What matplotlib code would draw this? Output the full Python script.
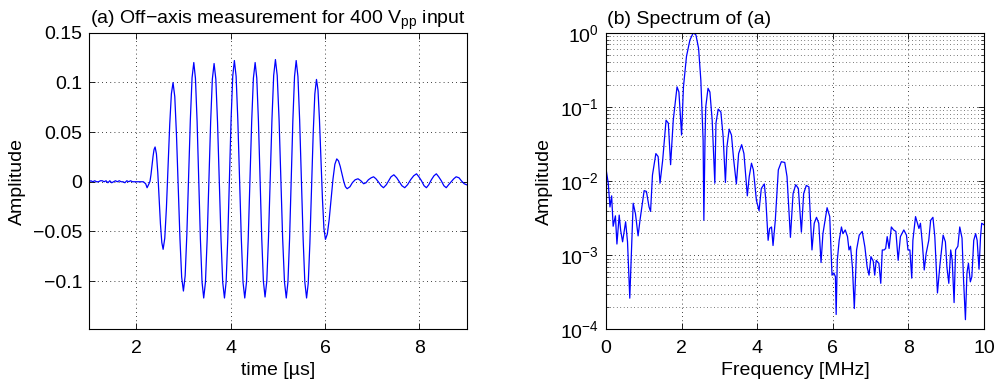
import numpy as np
import matplotlib
matplotlib.use("Agg")
import matplotlib.pyplot as plt
from matplotlib.ticker import LogLocator, NullFormatter

plt.rcParams["font.family"] = ["Liberation Sans", "DejaVu Sans"]
plt.rcParams["mathtext.fontset"] = "custom"
plt.rcParams["mathtext.rm"] = "Liberation Sans"
plt.rcParams["mathtext.it"] = "Liberation Sans"

# (a) time signal: time [us], amplitude
t_us = [
    1.00, 1.04, 1.08, 1.12, 1.16, 1.20, 1.24, 1.28, 1.32, 1.36, 1.40, 1.44,
    1.48, 1.52, 1.56, 1.60, 1.64, 1.68, 1.72, 1.76, 1.80, 1.84, 1.88, 1.92,
    1.96, 2.00, 2.05, 2.10, 2.15, 2.20, 2.23, 2.27,
    2.292, 2.313, 2.335, 2.357, 2.378, 2.40,
    2.428, 2.457, 2.485, 2.513, 2.542, 2.57,
    2.605, 2.64, 2.675, 2.71, 2.745, 2.78,
    2.817, 2.853, 2.89, 2.927, 2.963, 3.00,
    3.037, 3.073, 3.11, 3.147, 3.183, 3.22,
    3.255, 3.29, 3.325, 3.36, 3.395, 3.43,
    3.467, 3.503, 3.54, 3.577, 3.613, 3.65,
    3.687, 3.723, 3.76, 3.797, 3.833, 3.87,
    3.905, 3.94, 3.975, 4.01, 4.045, 4.08,
    4.117, 4.153, 4.19, 4.227, 4.263, 4.30,
    4.337, 4.373, 4.41, 4.447, 4.483, 4.52,
    4.555, 4.59, 4.625, 4.66, 4.695, 4.73,
    4.767, 4.803, 4.84, 4.877, 4.913, 4.95,
    4.988, 5.027, 5.065, 5.103, 5.142, 5.18,
    5.215, 5.25, 5.285, 5.32, 5.355, 5.39,
    5.427, 5.463, 5.50, 5.537, 5.573, 5.61,
    5.645, 5.68, 5.715, 5.75, 5.785, 5.82,
    5.852, 5.883, 5.915, 5.947, 5.978, 6.01,
    6.05, 6.09, 6.13, 6.17, 6.21, 6.25,
    6.287, 6.323, 6.36, 6.397, 6.433, 6.47,
    6.53, 6.58, 6.64, 6.70, 6.76, 6.82, 6.87, 6.92, 6.98, 7.03,
    7.08, 7.13, 7.19, 7.24, 7.30, 7.35, 7.40, 7.46, 7.52, 7.575,
    7.63, 7.69, 7.75, 7.815, 7.88, 7.94, 7.99, 8.045, 8.10, 8.15,
    8.20, 8.255, 8.31, 8.36, 8.41, 8.465, 8.52, 8.57, 8.62, 8.675,
    8.73, 8.78, 8.84, 8.89, 8.95, 9.00,
]
amp = [
    0.000, 0.001, 0.000, 0.001, 0.000, 0.000, 0.001, 0.001, 0.000, 0.001, -0.001, 0.001,
    -0.001, 0.000, 0.001, 0.000, 0.001, 0.000, 0.000, -0.001, 0.001, 0.000, 0.001, 0.000,
    0.000, 0.000, 0.000, 0.000, 0.000, -0.002, -0.006, -0.002,
    0.0005, 0.0073, 0.0165, 0.0258, 0.0325, 0.035,
    0.0281, 0.0092, -0.0165, -0.0423, -0.0611, -0.068,
    -0.0568, -0.0261, 0.0159, 0.0578, 0.0885, 0.0997,
    0.0857, 0.0473, -0.0052, -0.0576, -0.0960, -0.110,
    -0.0946, -0.0525, 0.005, 0.0625, 0.1046, 0.120,
    0.1041, 0.0607, 0.0015, -0.0578, -0.1011, -0.117,
    -0.1012, -0.058, 0.001, 0.060, 0.1032, 0.119,
    0.1032, 0.060, 0.001, -0.058, -0.1012, -0.117,
    -0.101, -0.0572, 0.0025, 0.0623, 0.106, 0.122,
    0.106, 0.0623, 0.0025, -0.0572, -0.101, -0.117,
    -0.1011, -0.0578, 0.0015, 0.0608, 0.1041, 0.120,
    0.1042, 0.061, 0.002, -0.057, -0.1002, -0.116,
    -0.100, -0.0562, 0.0035, 0.0633, 0.107, 0.123,
    0.1069, 0.063, 0.003, -0.057, -0.1009, -0.117,
    -0.101, -0.0572, 0.0025, 0.0623, 0.106, 0.122,
    0.106, 0.0623, 0.0025, -0.0572, -0.101, -0.117,
    -0.1023, -0.062, -0.007, 0.048, 0.0883, 0.103,
    0.0922, 0.0627, 0.0225, -0.0178, -0.0472, -0.058,
    -0.0526, -0.0377, -0.0175, 0.0028, 0.0176, 0.023,
    0.021, 0.0155, 0.008, 0.0005, -0.005, -0.007,
    -0.005, -0.001, 0.002, 0.003, 0.001, -0.002, -0.001, 0.002, 0.004, 0.005,
    0.003, 0.000, -0.004, -0.006, -0.003, 0.001, 0.005, 0.007, 0.004, 0.000,
    -0.004, -0.006, -0.003, 0.002, 0.006, 0.008, 0.005, 0.001, -0.004, -0.006,
    -0.003, 0.002, 0.006, 0.008, 0.005, 0.001, -0.004, -0.006, -0.003, 0.000,
    0.003, 0.005, 0.004, 0.001, -0.002, -0.003,
]

# (b) spectrum: frequency [MHz], log10(amplitude)
freq_mhz = [
    0.00, 0.06, 0.106, 0.15, 0.19, 0.25, 0.29, 0.35, 0.39, 0.44, 0.52, 0.57,
    0.63, 0.72, 0.78, 0.85, 0.90, 1.01, 1.07, 1.14, 1.18, 1.23, 1.32, 1.38,
    1.43, 1.50, 1.59, 1.65, 1.71, 1.78, 1.88, 1.93, 2.00, 2.05, 2.13, 2.22,
    2.31, 2.38, 2.45, 2.51, 2.57, 2.59, 2.62, 2.64, 2.70, 2.75, 2.81, 2.88,
    2.91, 2.97, 3.04, 3.10, 3.16, 3.20, 3.26, 3.32, 3.38, 3.45, 3.51, 3.59,
    3.65, 3.74, 3.79, 3.85, 3.90, 3.98, 4.05, 4.11, 4.19, 4.23, 4.29, 4.33,
    4.38, 4.42, 4.48, 4.56, 4.64, 4.73, 4.79, 4.88, 4.95, 5.02, 5.09, 5.17,
    5.23, 5.30, 5.37, 5.45, 5.51, 5.57, 5.63, 5.69, 5.74, 5.85, 5.92, 5.98,
    6.03, 6.07, 6.09, 6.12, 6.17, 6.23, 6.27, 6.33, 6.39, 6.43, 6.47, 6.52,
    6.57, 6.63, 6.70, 6.78, 6.85, 6.91, 6.96, 7.01, 7.07, 7.11, 7.15, 7.22,
    7.27, 7.31, 7.36, 7.40, 7.44, 7.49, 7.55, 7.61, 7.67, 7.73, 7.79, 7.88,
    7.95, 7.99, 8.04, 8.09, 8.12, 8.19, 8.24, 8.28, 8.32, 8.37, 8.42, 8.47,
    8.54, 8.59, 8.65, 8.70, 8.77, 8.83, 8.92, 8.98, 9.02, 9.07, 9.12, 9.16,
    9.21, 9.25, 9.31, 9.36, 9.42, 9.46, 9.51, 9.55, 9.59, 9.64, 9.68, 9.73,
    9.78, 9.82, 9.87, 9.91, 9.94, 10.00,
]
spec_log10 = [
    -1.83, -2.03, -2.35, -2.20, -2.61, -2.47, -2.85, -2.46, -2.67, -2.82, -2.55, -2.82,
    -3.58, -2.30, -2.44, -2.74, -2.53, -2.13, -2.14, -2.35, -2.41, -1.92, -1.63, -1.67,
    -2.03, -1.72, -1.18, -1.22, -1.78, -1.18, -0.73, -0.80, -1.38, -0.73, -0.32, -0.10,
    0.00, -0.03, -0.21, -0.64, -1.45, -2.53, -1.45, -1.00, -0.75, -0.80, -1.18, -2.03,
    -1.22, -1.03, -1.07, -1.40, -2.02, -1.54, -1.30, -1.38, -1.72, -2.04, -1.63, -1.51,
    -1.63, -2.20, -1.94, -1.76, -1.85, -2.26, -2.40, -2.10, -2.04, -2.26, -2.80, -2.64,
    -2.62, -2.87, -2.53, -1.85, -1.74, -1.75, -1.94, -2.76, -2.17, -2.05, -2.10, -2.69,
    -2.17, -2.06, -2.08, -2.93, -2.57, -2.49, -2.57, -3.10, -2.71, -2.36, -2.48, -3.27,
    -3.24, -3.29, -3.80, -3.07, -2.80, -2.62, -2.71, -2.66, -2.75, -2.93, -2.88, -3.16,
    -3.72, -2.93, -2.73, -2.68, -2.89, -3.16, -3.27, -3.02, -3.08, -3.27, -3.07, -3.11,
    -3.38, -2.93, -2.93, -2.91, -2.75, -2.91, -2.62, -2.66, -2.68, -3.07, -2.75, -2.66,
    -2.73, -2.93, -2.93, -3.31, -2.80, -2.48, -2.57, -2.64, -2.57, -2.84, -3.20, -2.98,
    -2.80, -2.53, -2.49, -2.75, -3.51, -3.16, -2.73, -2.82, -3.16, -3.38, -2.93, -3.07,
    -3.64, -2.93, -2.88, -2.62, -2.77, -3.33, -3.87, -3.24, -3.11, -3.36, -3.29, -2.80,
    -2.71, -2.80, -3.19, -2.75, -2.57, -2.59,
]

line_col = "#0000ff"
fs = 14

fig = plt.figure(figsize=(9.96, 3.85), dpi=100)
ax1 = fig.add_axes([0.0894, 0.1447, 0.3790, 0.7703])
ax2 = fig.add_axes([0.6084, 0.1447, 0.3795, 0.7703])

# (a)
ax1.plot(t_us, amp, color=line_col, lw=0.9)
ax1.set_xlim(1, 9)
ax1.set_ylim(-0.1485, 0.15)
ax1.set_xticks([2, 4, 6, 8])
ax1.set_yticks([-0.1, -0.05, 0, 0.05, 0.1, 0.15])
ax1.set_yticklabels(["\u22120.1", "\u22120.05", "0", "0.05", "0.1", "0.15"])
ax1.set_xlabel("time [\u00b5s]", fontsize=fs, labelpad=3)
ax1.set_ylabel("Amplitude", fontsize=fs, labelpad=5)
ax1.grid(True, linestyle=(0, (1, 4)), color="k", lw=0.6)
ax1.text(0.002, 1.03, "(a) Off\u2212axis measurement for 400 V$_{\\mathrm{pp}}$ input",
         transform=ax1.transAxes, fontsize=fs, va="baseline", ha="left")

# (b)
ax2.semilogy(freq_mhz, 10.0 ** np.array(spec_log10), color=line_col, lw=0.9)
ax2.set_xlim(0, 10)
ax2.set_ylim(1e-4, 1e0)
ax2.set_xticks([0, 2, 4, 6, 8, 10])
ax2.yaxis.set_major_locator(LogLocator(base=10, numticks=10))
ax2.yaxis.set_minor_locator(LogLocator(base=10, subs=np.arange(2, 10), numticks=20))
ax2.yaxis.set_minor_formatter(NullFormatter())
ax2.set_xlabel("Frequency [MHz]", fontsize=fs, labelpad=3)
ax2.set_ylabel("Amplitude", fontsize=fs, labelpad=5)
ax2.grid(True, which="major", linestyle=(0, (1, 4)), color="k", lw=0.6)
ax2.grid(True, which="minor", axis="y", linestyle=(0, (1, 4)), color="k", lw=0.5)
ax2.text(0.004, 1.03, "(b) Spectrum of (a)", transform=ax2.transAxes,
         fontsize=fs, va="baseline", ha="left")

for ax in (ax1, ax2):
    ax.set_axisbelow(True)
    ax.tick_params(direction="in", top=True, right=True, labelsize=fs,
                   length=4, width=0.6)
    ax.tick_params(axis="x", pad=8)
    ax.tick_params(axis="y", pad=5)
    ax.tick_params(which="minor", direction="in", right=True, length=2, width=0.5)
    for s in ax.spines.values():
        s.set_linewidth(0.8)

fig.savefig("out.png", dpi=100)
